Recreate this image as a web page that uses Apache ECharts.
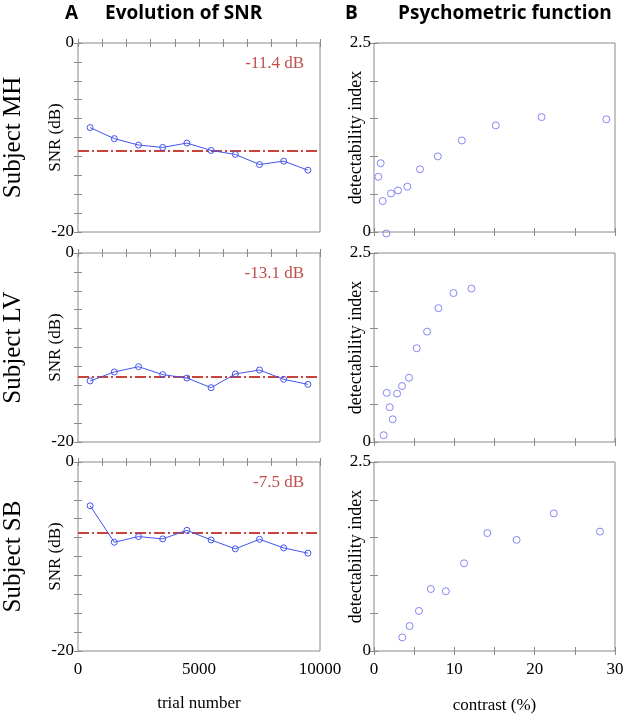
<!DOCTYPE html>
<html>
<head>
<meta charset="utf-8">
<script src="https://cdn.jsdelivr.net/npm/echarts@6/dist/echarts.min.js"></script>
<style>html,body{margin:0;padding:0;background:#fff}#c{width:630px;height:715px}</style>
</head>
<body>
<div id="c"></div>
<script>
// ---- data ----
const subjects = ['Subject MH', 'Subject LV', 'Subject SB'];
const trials = [500, 1500, 2500, 3500, 4500, 5500, 6500, 7500, 8500, 9500];
const snrMH = [-8.95, -10.12, -10.8, -11.05, -10.59, -11.37, -11.79, -12.86, -12.5, -13.46];
const snrLV = [-13.54, -12.59, -12.03, -12.87, -13.23, -14.25, -12.8, -12.38, -13.37, -13.9];
const snrSB = [-4.63, -8.49, -7.89, -8.14, -7.23, -8.25, -9.19, -8.18, -9.09, -9.65];
const thresholds = [-11.4, -13.1, -7.5];
const contrastMH = [0.54, 0.83, 1.08, 1.54, 2.12, 2.99, 4.15, 5.73, 7.94, 10.93, 15.16, 20.86, 28.92];
const dMH = [0.73, 0.91, 0.41, -0.02, 0.51, 0.55, 0.6, 0.83, 1.0, 1.21, 1.41, 1.52, 1.49];
const contrastLV = [1.2, 1.58, 1.95, 2.33, 2.87, 3.49, 4.36, 5.32, 6.61, 8.02, 9.89, 12.13];
const dLV = [0.09, 0.65, 0.46, 0.3, 0.64, 0.74, 0.85, 1.24, 1.46, 1.77, 1.97, 2.03];
const contrastSB = [3.52, 4.43, 5.59, 7.07, 8.94, 11.21, 14.11, 17.75, 22.38, 28.13];
const dSB = [0.18, 0.33, 0.53, 0.82, 0.79, 1.16, 1.56, 1.47, 1.82, 1.58];
const snrTickLabels = [0, -20];
const trialTickLabels = [0, 5000, 10000];
const dTickLabels = [0, 2.5];
const contrastTickLabels = [0, 10, 20, 30];
const panelTitles = ['A', 'Evolution of SNR', 'B', 'Psychometric function'];
const xNames = ['trial number', 'contrast (%)'];
const yNames = ['SNR (dB)', 'detectability index'];

const snrSeries = [snrMH, snrLV, snrSB];
const contrastSeries = [contrastMH, contrastLV, contrastSB];
const dSeries = [dMH, dLV, dSB];

// ---- layout ----
const rowTops = [43, 253, 462];
const rowH = 189;
const leftX = 78, leftW = 242;
const rightX = 374, rightW = 241;
const serif = 'Liberation Serif';
const axisGray = '#8a8a8a';
const blue = '#4455ee';
const pblue = '#6a6af2';
const red = '#c8433b';

const grids = [], xAxes = [], yAxes = [], series = [], titles = [], graphics = [];

function tickFmt(list) {
  return function (v) {
    for (const t of list) if (Math.abs(v - t) < 1e-9) return String(t);
    return '';
  };
}

for (let r = 0; r < 3; r++) {
  const bottom = r === 2;
  // left grid
  const gL = grids.length;
  grids.push({left: leftX, top: rowTops[r], width: leftW, height: rowH, show: true, borderColor: axisGray, borderWidth: 1, backgroundColor: 'transparent'});
  const xL = xAxes.length;
  xAxes.push({
    type: 'value', gridIndex: gL, min: 0, max: 10000, interval: 1000, position: 'bottom',
    axisLine: {show: false}, splitLine: {show: false},
    axisTick: {show: true, inside: true, length: 4, lineStyle: {color: axisGray}},
    axisLabel: {show: bottom, formatter: tickFmt(trialTickLabels), color: '#000', fontFamily: serif, fontSize: 17, margin: 10},
    name: bottom ? xNames[0] : '', nameLocation: 'middle', nameGap: 44, nameMoveOverlap: false,
    nameTextStyle: {color: '#000', fontFamily: serif, fontSize: 17}
  });
  xAxes.push({
    type: 'value', gridIndex: gL, min: 0, max: 10000, interval: 1000, position: 'top',
    axisLine: {show: false}, splitLine: {show: false}, axisLabel: {show: false},
    axisTick: {show: true, inside: true, length: 4, lineStyle: {color: axisGray}}
  });
  const yL = yAxes.length;
  yAxes.push({
    type: 'value', gridIndex: gL, min: -20, max: 0, interval: 2, position: 'left',
    axisLine: {show: false}, splitLine: {show: false},
    axisTick: {show: true, inside: true, length: 4, lineStyle: {color: axisGray}},
    axisLabel: {formatter: tickFmt(snrTickLabels), color: '#000', fontFamily: serif, fontSize: 17, margin: 4},
    name: yNames[0], nameLocation: 'middle', nameGap: 14, nameRotate: 90, nameMoveOverlap: false,
    nameTextStyle: {color: '#000', fontFamily: serif, fontSize: 17}
  });
  yAxes.push({
    type: 'value', gridIndex: gL, min: -20, max: 0, interval: 2, position: 'right',
    axisLine: {show: false}, splitLine: {show: false}, axisLabel: {show: false},
    axisTick: {show: true, inside: true, length: 4, lineStyle: {color: axisGray}}
  });
  series.push({
    type: 'line', xAxisIndex: xL, yAxisIndex: yL,
    data: trials.map((t, i) => [t, snrSeries[r][i]]),
    symbol: 'circle', symbolSize: 6,
    lineStyle: {color: blue, width: 1},
    itemStyle: {color: 'rgba(255,255,255,0)', borderColor: blue, borderWidth: 1},
    z: 3,
    markLine: {
      silent: true, symbol: 'none', label: {show: false},
      lineStyle: {color: red, width: 2, type: [11, 3, 2, 3], opacity: 1},
      data: [{yAxis: thresholds[r]}],
      z: 2
    }
  });
  titles.push({
    text: thresholds[r].toFixed(1) + ' dB',
    right: 630 - (leftX + leftW) + 11, top: rowTops[r] + 7,
    textStyle: {color: '#c0504d', fontFamily: serif, fontSize: 17, fontWeight: 'normal'}
  });
  graphics.push({
    type: 'text', x: 13, y: rowTops[r] + rowH / 2, rotation: Math.PI / 2,
    style: {text: subjects[r], fill: '#000', font: '25px "Liberation Serif"', textAlign: 'center', textVerticalAlign: 'middle'}
  });

  // right grid
  const gR = grids.length;
  grids.push({left: rightX, top: rowTops[r], width: rightW, height: rowH, show: true, borderColor: axisGray, borderWidth: 1, backgroundColor: 'transparent'});
  const xR = xAxes.length;
  xAxes.push({
    type: 'value', gridIndex: gR, min: 0, max: 30, interval: 5, position: 'bottom',
    axisLine: {show: false}, splitLine: {show: false},
    axisTick: {show: true, inside: true, length: 4, lineStyle: {color: axisGray}},
    axisLabel: {show: bottom, formatter: tickFmt(contrastTickLabels), color: '#000', fontFamily: serif, fontSize: 17, margin: 10},
    name: bottom ? xNames[1] : '', nameLocation: 'middle', nameGap: 46, nameMoveOverlap: false,
    nameTextStyle: {color: '#000', fontFamily: serif, fontSize: 17}
  });
  xAxes.push({
    type: 'value', gridIndex: gR, min: 0, max: 30, interval: 5, position: 'top',
    axisLine: {show: false}, splitLine: {show: false}, axisLabel: {show: false},
    axisTick: {show: true, inside: true, length: 4, lineStyle: {color: axisGray}}
  });
  const yR = yAxes.length;
  yAxes.push({
    type: 'value', gridIndex: gR, min: 0, max: 2.5, interval: 0.5, position: 'left',
    axisLine: {show: false}, splitLine: {show: false},
    axisTick: {show: true, inside: true, length: 4, lineStyle: {color: axisGray}},
    axisLabel: {formatter: tickFmt(dTickLabels), color: '#000', fontFamily: serif, fontSize: 17, margin: 3},
    name: yNames[1], nameLocation: 'middle', nameGap: 9, nameRotate: 90, nameMoveOverlap: false,
    nameTextStyle: {color: '#000', fontFamily: serif, fontSize: 18}
  });
  yAxes.push({
    type: 'value', gridIndex: gR, min: 0, max: 2.5, interval: 0.5, position: 'right',
    axisLine: {show: false}, splitLine: {show: false}, axisLabel: {show: false},
    axisTick: {show: true, inside: true, length: 4, lineStyle: {color: axisGray}}
  });
  series.push({
    type: 'scatter', xAxisIndex: xR, yAxisIndex: yR, clip: false,
    data: contrastSeries[r].map((c, i) => [c, dSeries[r][i]]),
    symbol: 'circle', symbolSize: 7,
    itemStyle: {color: 'rgba(255,255,255,0)', borderColor: pblue, borderWidth: 1}
  });
}

const titleStyle = {color: '#000', fontFamily: 'Open Sans', fontSize: 19, fontWeight: 'bold'};
titles.push({text: panelTitles[0], left: 60, top: -1, textStyle: titleStyle});
titles.push({text: panelTitles[1], left: 100, top: -1, textStyle: titleStyle});
titles.push({text: panelTitles[2], left: 340, top: -1, textStyle: titleStyle});
titles.push({text: panelTitles[3], left: 393, top: -1, textStyle: titleStyle});

const chart = echarts.init(document.getElementById('c'), null, {renderer: 'canvas'});
chart.setOption({
  animation: false,
  backgroundColor: '#fff',
  title: titles,
  grid: grids,
  xAxis: xAxes,
  yAxis: yAxes,
  series: series,
  graphic: graphics
});
</script>
</body>
</html>
